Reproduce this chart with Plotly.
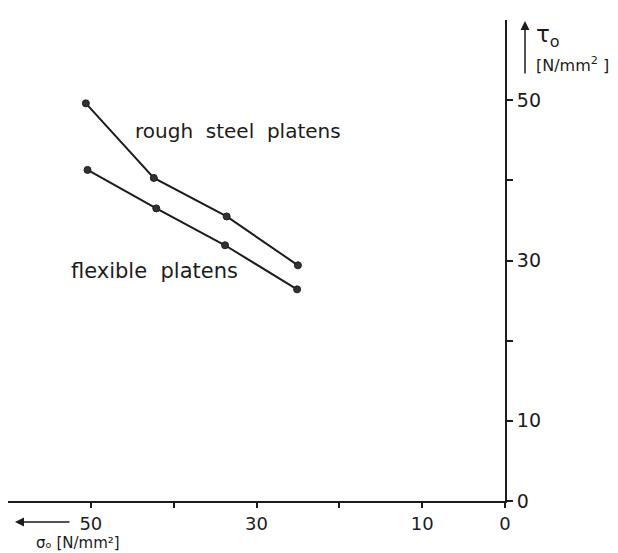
import plotly.graph_objects as go

# Data
sigma_rough = [50.6, 42.4, 33.6, 25.0]
tau_rough = [49.6, 40.3, 35.5, 29.4]
sigma_flex = [50.4, 42.1, 33.8, 25.1]
tau_flex = [41.3, 36.5, 31.9, 26.4]

x_tickvals = [0, 10, 20, 30, 40, 50]
x_ticktext = ["0", "10", "", "30", "", "50"]
y_tickvals = [0, 10, 20, 30, 40, 50]
y_ticktext = ["0", "10", "", "30", "", "50"]

INK = "#1c1c1c"
FONT = "DejaVu Sans"

W, H = 618, 553
ML, MR, MT, MB = 0, 121, 12, 60
PW, PH = W - ML - MR, H - MT - MB


def px(xp):
    return (xp - ML) / PW


def py(yp):
    return (H - MB - yp) / PH


fig = go.Figure()
for xs, ys in [(sigma_rough, tau_rough), (sigma_flex, tau_flex)]:
    fig.add_trace(go.Scatter(
        x=xs, y=ys, mode="lines+markers",
        line=dict(color=INK, width=2),
        marker=dict(color="#333333", size=7, line=dict(color=INK, width=1)),
        showlegend=False, cliponaxis=False,
    ))

fig.update_layout(
    width=W, height=H,
    margin=dict(l=ML, r=MR, t=MT, b=MB),
    paper_bgcolor="white", plot_bgcolor="white",
    font=dict(family=FONT, color=INK, size=19),
    xaxis=dict(
        range=[60, 0], autorange=False,
        showgrid=False, zeroline=False,
        showline=True, linecolor=INK, linewidth=2,
        tickvals=x_tickvals, ticktext=x_ticktext,
        ticks="outside", ticklen=5, tickwidth=1.5, tickcolor=INK,
        tickfont=dict(family=FONT, size=18, color=INK),
    ),
    yaxis=dict(
        range=[0, 60], autorange=False, side="right",
        showgrid=False, zeroline=False,
        showline=True, linecolor=INK, linewidth=2,
        tickvals=y_tickvals, ticktext=y_ticktext,
        ticks="outside", ticklen=6, tickwidth=1.5, tickcolor=INK,
        tickfont=dict(family=FONT, size=19, color=INK),
    ),
)

nb = "\u00a0"
# Series labels
fig.add_annotation(x=px(125), y=py(123), xref="paper", yref="paper",
                   xanchor="left", yanchor="middle",
                   text="rough" + nb * 2 + "steel" + nb * 2 + "platens", showarrow=False,
                   font=dict(family=FONT, size=20, color=INK))
fig.add_annotation(x=px(61), y=py(263), xref="paper", yref="paper",
                   xanchor="left", yanchor="middle",
                   text="flexible" + nb * 2 + "platens", showarrow=False,
                   font=dict(family=FONT, size=21, color=INK))

# Y axis arrow and title
fig.add_annotation(x=px(517), y=py(13), xref="paper", yref="paper", ax=0, ay=54,
                   showarrow=True, arrowhead=2, arrowsize=1.2, arrowwidth=1.5,
                   arrowcolor=INK, text="")
fig.add_annotation(x=px(526), y=py(28), xref="paper", yref="paper",
                   xanchor="left", yanchor="middle",
                   text="τ<sub>o</sub>", showarrow=False,
                   font=dict(family=FONT, size=23, color=INK))
fig.add_annotation(x=px(526), y=py(57), xref="paper", yref="paper",
                   xanchor="left", yanchor="middle",
                   text="[N/mm<sup>2</sup>" + nb + "]", showarrow=False,
                   font=dict(family=FONT, size=16, color=INK))

# X axis arrow and title
fig.add_annotation(x=px(7), y=py(514), xref="paper", yref="paper", ax=56, ay=0,
                   showarrow=True, arrowhead=2, arrowsize=1.2, arrowwidth=1.5,
                   arrowcolor=INK, text="")
fig.add_annotation(x=px(26), y=py(535), xref="paper", yref="paper",
                   xanchor="left", yanchor="middle",
                   text="σₒ" + nb + "[N/mm²]", showarrow=False,
                   font=dict(family=FONT, size=15, color=INK))

fig.write_html("out.html")
